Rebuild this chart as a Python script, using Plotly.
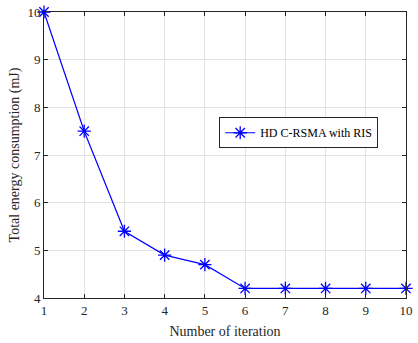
import plotly.graph_objects as go

iterations = [1, 2, 3, 4, 5, 6, 7, 8, 9, 10]
energy = [10, 7.5, 5.4, 4.9, 4.7, 4.2, 4.2, 4.2, 4.2, 4.2]
x_ticks = [1, 2, 3, 4, 5, 6, 7, 8, 9, 10]
y_ticks = [4, 5, 6, 7, 8, 9, 10]

fig = go.Figure()
fig.add_trace(go.Scatter(
    x=iterations, y=energy, mode="lines+markers",
    name="HD C-RSMA with RIS",
    line=dict(color="#0000ff", width=1.2),
    marker=dict(symbol="asterisk-open", size=11, color="#0000ff",
                line=dict(color="#0000ff", width=1.3)),
    cliponaxis=False,
))

axis_common = dict(
    showline=True, linecolor="#262626", linewidth=1, mirror="ticks",
    ticks="inside", ticklen=4, tickcolor="#262626",
    showgrid=True, gridcolor="#e3e3e3", gridwidth=1,
    zeroline=False, ticklabeloverflow="allow",
    tickfont=dict(family="Liberation Serif", size=13, color="#262626"),
)

fig.update_layout(
    width=418, height=343,
    margin=dict(l=44, r=5, t=8, b=45),
    paper_bgcolor="white", plot_bgcolor="white",
    font=dict(family="Liberation Serif", size=13, color="#262626"),
    xaxis=dict(range=[1, 10], tickvals=x_ticks,
               title=dict(text="Number of iteration", standoff=9,
                          font=dict(family="Liberation Serif", size=14)),
               **axis_common),
    yaxis=dict(range=[4, 10], tickvals=y_ticks,
               title=dict(text="Total energy consumption (mJ)", standoff=4,
                          font=dict(family="Liberation Serif", size=14)),
               **axis_common),
    legend=dict(x=0.484, y=0.632, xanchor="left", yanchor="top",
                bgcolor="white", bordercolor="#262626", borderwidth=1,
                font=dict(family="Liberation Serif", size=12, color="black"),
                itemwidth=30, tracegroupgap=0),
    showlegend=True,
)

fig.write_html("out.html")
